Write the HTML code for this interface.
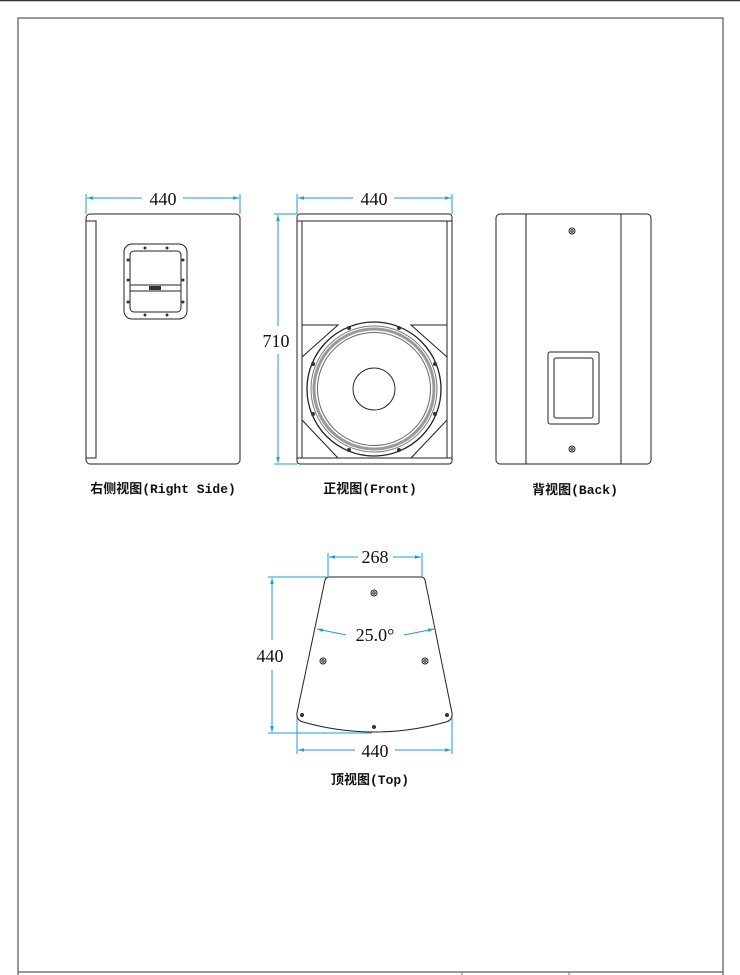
<!DOCTYPE html>
<html><head><meta charset="utf-8"><style>
html,body{margin:0;padding:0;background:#fff;}
svg{display:block;}
text{font-family:"Liberation Serif","Noto Serif CJK SC",serif;}
.lb{font-family:"Liberation Mono","Noto Sans CJK SC",monospace;}
</style></head><body>
<svg width="740" height="975" viewBox="0 0 740 975" xmlns="http://www.w3.org/2000/svg">
<defs>
<marker id="ar" viewBox="0 0 10 10" refX="10" refY="5" markerWidth="6" markerHeight="6" orient="auto-start-reverse"><path d="M0,2 L10,5 L0,8 z" fill="#1b9be0"/></marker>
</defs>
<line x1="0" y1="0.5" x2="740" y2="0.5" stroke="#333" stroke-width="1.5"/>
<rect x="18" y="18" width="705" height="970" fill="none" stroke="#777" stroke-width="1.5"/>
<line x1="18" y1="972" x2="723" y2="972" stroke="#777" stroke-width="1.5"/>
<line x1="462" y1="972" x2="462" y2="975" stroke="#777"/>
<line x1="569" y1="972" x2="569" y2="975" stroke="#777"/>

<g fill="none" stroke="#222" stroke-width="1">
<rect x="86" y="214" width="154" height="250" rx="4"/>
<path d="M86,221 H96 V458 H86"/>
<rect x="124" y="244" width="63" height="75" rx="8"/>
<rect x="130" y="251" width="51" height="61" rx="4"/>
<line x1="130" y1="285" x2="181" y2="285"/><line x1="130" y1="291" x2="181" y2="291"/>
<rect x="297" y="214" width="155" height="250" rx="3"/>
<path d="M297,221 H452 M302,221 V458 M447,221 V458 M297,458 H452"/>
<path d="M302,325 H338 L302,357 M447,325 H411 L447,357 M302,420 L338,458 M447,420 L411,458"/>
<circle cx="374" cy="389" r="67" stroke-width="1.3"/>
<circle cx="374" cy="389" r="63" stroke="#777" stroke-width="1"/>
<circle cx="374" cy="389" r="60" stroke="#999" stroke-width="3"/>
<circle cx="374" cy="389" r="56.5" stroke="#666"/>
<circle cx="374" cy="389" r="21"/>
<rect x="496" y="214" width="155" height="250" rx="4"/>
<line x1="526" y1="214" x2="526" y2="464"/><line x1="621" y1="214" x2="621" y2="464"/>
<rect x="548" y="352" width="51" height="72" rx="2"/>
<rect x="554" y="358" width="39" height="60" rx="2"/>
<circle cx="572" cy="231" r="3"/><circle cx="572" cy="231" r="1.2"/>
<circle cx="572" cy="449" r="3"/><circle cx="572" cy="449" r="1.2"/>
<path d="M330,577 H421 Q424,577 425,580 L452,713 Q453,720 446,722 Q374,742 303,722 Q296,720 297,713 L325,580 Q326,577 330,577 Z"/>
<circle cx="374" cy="593" r="3"/><circle cx="374" cy="593" r="1.2"/>
<circle cx="323" cy="661" r="3"/><circle cx="323" cy="661" r="1.2"/>
<circle cx="425" cy="661" r="3"/><circle cx="425" cy="661" r="1.2"/>
</g>
<g fill="#333">
<circle cx="145" cy="248" r="1.5"/><circle cx="167" cy="248" r="1.5"/>
<circle cx="145" cy="315" r="1.5"/><circle cx="167" cy="315" r="1.5"/>
<circle cx="128" cy="260" r="1.5"/><circle cx="128" cy="280" r="1.5"/><circle cx="128" cy="302" r="1.5"/>
<circle cx="183" cy="260" r="1.5"/><circle cx="183" cy="280" r="1.5"/><circle cx="183" cy="302" r="1.5"/>
<rect x="149" y="286" width="12" height="4"/>
<circle cx="349" cy="328" r="2"/><circle cx="399" cy="328" r="2"/>
<circle cx="349" cy="450" r="2"/><circle cx="399" cy="450" r="2"/>
<circle cx="313" cy="364" r="2"/><circle cx="435" cy="364" r="2"/>
<circle cx="313" cy="414" r="2"/><circle cx="435" cy="414" r="2"/>
<circle cx="302" cy="715" r="2"/><circle cx="447" cy="715" r="2"/><circle cx="374" cy="727" r="2"/>
</g>

<g stroke="#1b9be0" stroke-width="1" fill="none">
<line x1="86" y1="214" x2="86" y2="194"/><line x1="240" y1="214" x2="240" y2="194"/>
<line x1="87" y1="198" x2="142" y2="198" marker-start="url(#ar)"/>
<line x1="183" y1="198" x2="239" y2="198" marker-end="url(#ar)"/>
<line x1="297" y1="214" x2="297" y2="194"/><line x1="452" y1="214" x2="452" y2="194"/>
<line x1="298" y1="198" x2="353" y2="198" marker-start="url(#ar)"/>
<line x1="394" y1="198" x2="451" y2="198" marker-end="url(#ar)"/>
<line x1="297" y1="214" x2="274" y2="214"/><line x1="297" y1="464" x2="274" y2="464"/>
<line x1="278" y1="215" x2="278" y2="326" marker-start="url(#ar)"/>
<line x1="278" y1="354" x2="278" y2="463" marker-end="url(#ar)"/>
<line x1="328" y1="577" x2="328" y2="553"/><line x1="422" y1="577" x2="422" y2="553"/>
<line x1="329" y1="557" x2="358" y2="557" marker-start="url(#ar)"/>
<line x1="393" y1="557" x2="421" y2="557" marker-end="url(#ar)"/>
<line x1="328" y1="577" x2="268" y2="577"/><line x1="372" y1="733" x2="268" y2="733"/>
<line x1="272" y1="578" x2="272" y2="640" marker-start="url(#ar)"/>
<line x1="272" y1="670" x2="272" y2="732" marker-end="url(#ar)"/>
<line x1="297" y1="718" x2="297" y2="754"/><line x1="452" y1="718" x2="452" y2="754"/>
<line x1="298" y1="750" x2="355" y2="750" marker-start="url(#ar)"/>
<line x1="395" y1="750" x2="451" y2="750" marker-end="url(#ar)"/>
<line x1="317" y1="629" x2="346" y2="635" marker-start="url(#ar)"/>
<line x1="404" y1="635" x2="434" y2="629" marker-end="url(#ar)"/>
</g>
<g font-size="18" fill="#111" text-anchor="middle">
<text x="163" y="205">440</text>
<text x="374" y="205">440</text>
<text x="276" y="347">710</text>
<text x="375" y="563">268</text>
<text x="270" y="662">440</text>
<text x="375" y="757">440</text>
<text x="375" y="641">25.0°</text>
</g>
<g font-size="13" fill="#111" text-anchor="middle" font-weight="bold" class="lb">
<text class="lb" x="163" y="493">右侧视图(Right Side)</text>
<text class="lb" x="370" y="493">正视图(Front)</text>
<text class="lb" x="575" y="494">背视图(Back)</text>
<text class="lb" x="370" y="784">顶视图(Top)</text>
</g>
</svg>
</body></html>
